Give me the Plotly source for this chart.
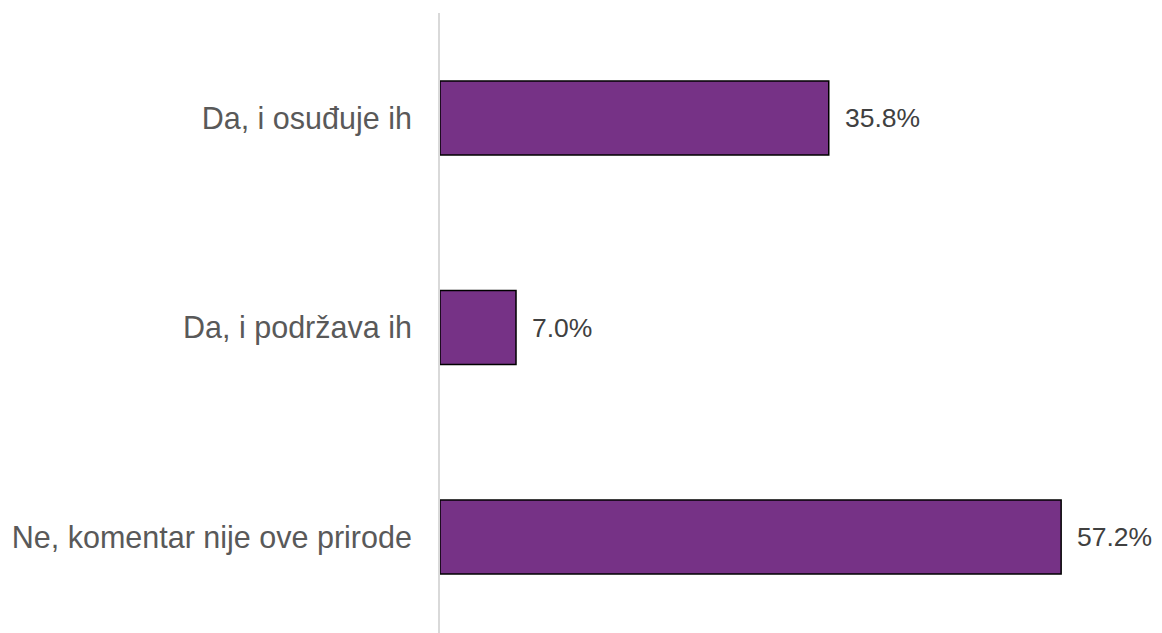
import plotly.graph_objects as go

categories = ["Da, i osuđuje ih", "Da, i podržava ih", "Ne, komentar nije ove prirode"]
values = [35.8, 7.0, 57.2]
value_labels = ["35.8%", "7.0%", "57.2%"]

fig = go.Figure()
fig.add_trace(go.Bar(
    x=values, y=categories, orientation="h",
    marker=dict(color="#763286", line=dict(color="#000000", width=1.5)),
    width=0.353, hoverinfo="skip",
))
for c, v, t in zip(categories, values, value_labels):
    fig.add_annotation(x=v, y=c, text=t, showarrow=False, xanchor="left",
                       xshift=14, font=dict(family="Liberation Sans, Arial", size=26.5, color="#404040"))

# page body has an 8px default margin, so the figure is offset by 8px
fig.update_layout(
    width=1154, height=625,
    margin=dict(l=432, r=100, t=5, b=0),
    plot_bgcolor="white", paper_bgcolor="white",
    showlegend=False,
    xaxis=dict(range=[0, 57.28], showgrid=False, zeroline=False, showticklabels=False,
               showline=False),
    yaxis=dict(categoryorder="array", categoryarray=categories,
               range=[2.458, -0.501], showgrid=False, zeroline=False,
               showline=True, linecolor="#d9d9d9", linewidth=2,
               ticks="", ticklabelstandoff=20,
               tickfont=dict(family="Liberation Sans, Arial", size=30.5, color="#595959")),
)
fig.write_html("out.html")
